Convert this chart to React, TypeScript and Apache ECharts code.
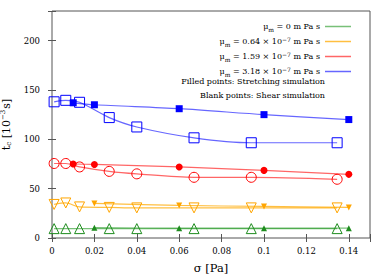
import React, { useEffect, useRef } from "react";
import * as echarts from "echarts";

const xFilledBR = [0.01, 0.02, 0.06, 0.1, 0.14];
const xFilledOG = [0.02, 0.06, 0.1, 0.14];
const xOpen = [0.001, 0.0065, 0.013, 0.027, 0.04, 0.067, 0.094, 0.1345];

const blueFilled = [137, 135, 131, 125, 120];
const blueOpen = [138, 139.5, 137.5, 122, 112.5, 101.5, 96.5, 96.5];
const redFilled = [75, 74.5, 72, 68.5, 64.5];
const redOpen = [75.5, 75.5, 72, 67.5, 65, 61.5, 61.5, 59.5];
const orangeFilled = [35, 33, 32, 31];
const orangeOpen = [34, 35.5, 31.5, 31, 30.5, 30.5, 30.5, 30.5];
const greenFilled = [10.5, 10, 10, 10];
const greenOpen = [9.5, 9.5, 9.5, 9.5, 9.5, 9.5, 9.5, 9.5];

const legendNames = ["mu0", "mu064", "mu159", "mu318"];
const legendLabels: Record<string, string> = {
  mu0: "μ{sub|m} = 0 m Pa s",
  mu064: "μ{sub|m} = 0.64 × 10{sup|−7} m Pa s",
  mu159: "μ{sub|m} = 1.59 × 10{sup|−7} m Pa s",
  mu318: "μ{sub|m} = 3.18 × 10{sup|−7} m Pa s",
};
const noteLines = ["Filled points: Stretching simulation", "Blank points: Shear simulation"];

const xTicks = { min: 0, max: 0.15, interval: 0.02 };
const yTicks = { min: 0, max: 230, interval: 50 };

const FONT = "DejaVu Serif";

const colors = {
  green: { mark: "#1e8c1e", line: "rgba(30,150,30,0.6)" },
  orange: { mark: "#ffa500", line: "rgba(255,170,0,0.75)" },
  red: { mark: "#ff0000", line: "rgba(255,0,0,0.6)" },
  blue: { mark: "#0000ff", line: "rgba(0,0,255,0.6)" },
};

function zip(xs: number[], ys: number[]) {
  return xs.map((x, i) => [x, ys[i]]);
}

function filledSeries(name: string, xs: number[], ys: number[], c: { mark: string; line: string }, symbol: string, size: number, rotate = 0) {
  return {
    name,
    type: "line",
    data: zip(xs, ys),
    smooth: 0.3,
    symbol,
    symbolSize: size,
    symbolRotate: rotate,
    showAllSymbol: true,
    itemStyle: { color: c.mark },
    lineStyle: { color: c.line, width: 1.2 },
    z: 3,
  };
}

function openSeries(name: string, xs: number[], ys: number[], c: { mark: string; line: string }, symbol: string, size: number, rotate = 0) {
  return {
    name,
    type: "line",
    data: zip(xs, ys),
    smooth: 0.3,
    symbol,
    symbolSize: size,
    symbolRotate: rotate,
    showAllSymbol: true,
    itemStyle: { color: "rgba(255,255,255,0)", borderColor: c.mark, borderWidth: 1 },
    lineStyle: { color: c.line, width: 1.2 },
    z: 2,
  };
}

export default function App() {
  const ref = useRef<HTMLDivElement>(null);
  useEffect(() => {
    if (!ref.current) return;
    document.body.style.margin = "0";
    const chart = echarts.init(ref.current, null, { renderer: "svg" });
    const axisCommon = {
      type: "value",
      axisLine: { show: false },
      splitLine: { show: false },
      axisTick: { show: true, inside: true, length: 4, lineStyle: { color: "#555" } },
    };
    chart.setOption({
      animation: false,
      backgroundColor: "#fff",
      textStyle: { fontFamily: FONT },
      grid: {
        left: 52,
        right: 20,
        top: 11,
        bottom: 41,
        containLabel: false,
        outerBoundsMode: "none",
        show: true,
        borderColor: "#555",
        borderWidth: 1,
      },
      xAxis: [
        {
          ...axisCommon,
          ...xTicks,
          position: "bottom",
          name: "σ [Pa]",
          nameLocation: "middle",
          nameGap: 24,
          nameTextStyle: { fontFamily: FONT, fontSize: 11.5, color: "#000" },
          axisLabel: {
            fontFamily: FONT,
            fontSize: 8.5,
            color: "#000",
            margin: 8,
            formatter: (v: number) => (v > 0.141 ? "" : String(Math.round(v * 100) / 100)),
          },
        },
        {
          ...axisCommon,
          ...xTicks,
          position: "top",
          axisLabel: { show: false },
        },
      ],
      yAxis: [
        {
          ...axisCommon,
          ...yTicks,
          position: "left",
          name: "t{sub|c} [10{sup|−3}s]",
          nameLocation: "middle",
          nameGap: 37,
          nameRotate: 90,
          nameTextStyle: {
            fontFamily: FONT,
            fontSize: 11,
            color: "#000",
            rich: {
              sub: { fontFamily: FONT, fontSize: 7, color: "#000", padding: [6, 0, 0, 0] },
              sup: { fontFamily: FONT, fontSize: 7, color: "#000", padding: [0, 1, 7, 0] },
            },
          },
          axisLabel: {
            fontFamily: FONT,
            fontSize: 8.5,
            color: "#000",
            margin: 12,
            formatter: (v: number) => (v > 201 ? "" : String(v)),
          },
        },
        {
          ...axisCommon,
          ...yTicks,
          position: "right",
          axisLabel: { show: false },
        },
      ],
      legend: {
        orient: "vertical",
        right: 34,
        top: 16,
        align: "right",
        itemGap: 4,
        itemWidth: 26,
        itemHeight: 1.5,
        icon: "rect",
        selectedMode: false,
        data: [
          { name: legendNames[0], itemStyle: { color: colors.green.line, borderWidth: 0 } },
          { name: legendNames[1], itemStyle: { color: colors.orange.line, borderWidth: 0 } },
          { name: legendNames[2], itemStyle: { color: colors.red.line, borderWidth: 0 } },
          { name: legendNames[3], itemStyle: { color: colors.blue.line, borderWidth: 0 } },
        ],
        formatter: (n: string) => legendLabels[n] || n,
        textStyle: {
          fontFamily: FONT,
          fontSize: 8,
          color: "#000",
          lineHeight: 11,
          rich: {
            sub: { fontFamily: FONT, fontSize: 6, color: "#000", padding: [5, 0, 0, 0], lineHeight: 11 },
            sup: { fontFamily: FONT, fontSize: 6, color: "#000", padding: [0, 0, 5, 0], lineHeight: 11 },
          },
        },
      },
      graphic: noteLines.map((t, i) => ({
        type: "text",
        right: 65,
        top: 77 + i * 14,
        style: { text: t, fontFamily: FONT, fontSize: 8, fill: "#000" },
      })),
      series: [
        openSeries(legendNames[0], xOpen, greenOpen, colors.green, "triangle", 10),
        filledSeries("g_f", xFilledOG, greenFilled, colors.green, "triangle", 6),
        openSeries(legendNames[1], xOpen, orangeOpen, colors.orange, "triangle", 10, 180),
        filledSeries("o_f", xFilledOG, orangeFilled, colors.orange, "triangle", 6, 180),
        openSeries(legendNames[2], xOpen, redOpen, colors.red, "circle", 10),
        filledSeries("r_f", xFilledBR, redFilled, colors.red, "circle", 7),
        openSeries(legendNames[3], xOpen, blueOpen, colors.blue, "rect", 10),
        filledSeries("b_f", xFilledBR, blueFilled, colors.blue, "rect", 7),
      ],
    });
    return () => chart.dispose();
  }, []);
  return <div ref={ref} style={{ width: 390, height: 279 }} />;
}
